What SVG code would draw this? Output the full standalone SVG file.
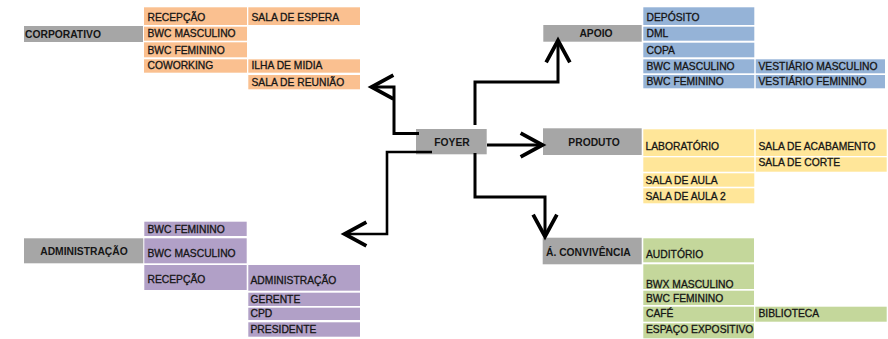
<svg xmlns="http://www.w3.org/2000/svg" width="888" height="339" viewBox="0 0 888 339">
<defs>
<style>
.hd{fill:#A6A6A6}
.o{fill:#FAC090}
.b{fill:#95B3D7}
.y{fill:#FFE699}
.g{fill:#C4D79B}
.p{fill:#B1A0C7}
text{font-family:"Liberation Sans",Arial,sans-serif;fill:#151515}
.ht{font-size:10.3px;font-weight:bold}
.ct{font-size:10.3px;stroke:#151515;stroke-width:0.3}
.mid{text-anchor:middle}
.ln{fill:none;stroke:#000;stroke-width:3;stroke-linejoin:miter}
</style>
<marker id="arr" markerUnits="userSpaceOnUse" markerWidth="30" markerHeight="30" refX="0" refY="0" viewBox="-20 -12 22 24" orient="auto" overflow="visible">
<path d="M-17.5,-9.5 L0,0 L-17.5,9.5" fill="none" stroke="#000" stroke-width="3"/>
</marker>
</defs>
<rect width="888" height="339" fill="#fff"/>

<g id="corporativo">
<rect class="hd" x="24" y="26" width="119" height="16"/>
<text class="ht" x="25" y="37.5">CORPORATIVO</text>
</g>
<g id="corporativo-salas">
<rect class="o" x="144" y="7.3" width="103" height="17.7"/><text class="ct" x="147.5" y="20.5">RECEPÇÃO</text>
<rect class="o" x="248.3" y="7.3" width="111.7" height="17.7"/><text class="ct" x="251.5" y="20.5">SALA DE ESPERA</text>
<rect class="o" x="144" y="26.7" width="103" height="14"/><text class="ct" x="147.5" y="37.3">BWC MASCULINO</text>
<rect class="o" x="144" y="42.3" width="103" height="15"/><text class="ct" x="147.5" y="53.5">BWC FEMININO</text>
<rect class="o" x="144" y="59.3" width="103" height="13.4"/><text class="ct" x="147.5" y="69.3">COWORKING</text>
<rect class="o" x="248.3" y="59.3" width="111.7" height="13.4"/><text class="ct" x="251.5" y="69.3">ILHA DE MIDIA</text>
<rect class="o" x="248.3" y="75" width="111.7" height="14.3"/><text class="ct" x="251.5" y="86">SALA DE REUNIÃO</text>
</g>

<g id="apoio">
<rect class="hd" x="543.3" y="25" width="98.4" height="16.7"/>
<text class="ht mid" x="596" y="36.7">APOIO</text>
</g>
<g id="apoio-salas">
<rect class="b" x="643.3" y="7.3" width="111" height="17.7"/><text class="ct" x="646.5" y="20.5">DEPÓSITO</text>
<rect class="b" x="643.3" y="26.7" width="111" height="14"/><text class="ct" x="646.5" y="37.3">DML</text>
<rect class="b" x="643.3" y="42.7" width="111" height="14.6"/><text class="ct" x="646.5" y="53.5">COPA</text>
<rect class="b" x="643.3" y="59.3" width="111" height="14"/><text class="ct" x="646.5" y="69.5">BWC MASCULINO</text>
<rect class="b" x="755.7" y="59.3" width="129.3" height="14"/><text class="ct" x="758.5" y="69.5">VESTIÁRIO MASCULINO</text>
<rect class="b" x="643.3" y="75" width="111" height="13.3"/><text class="ct" x="646.5" y="85">BWC FEMININO</text>
<rect class="b" x="755.7" y="75" width="129.3" height="13.3"/><text class="ct" x="758.5" y="85">VESTIÁRIO FEMININO</text>
</g>

<g id="produto">
<rect class="hd" x="543" y="128.3" width="98.7" height="26.7"/>
<text class="ht mid" x="594" y="145.7">PRODUTO</text>
</g>
<g id="produto-salas">
<rect class="y" x="643.3" y="129.3" width="111" height="26.7"/><text class="ct" x="645.5" y="150">LABORATÓRIO</text>
<rect class="y" x="755.7" y="129.3" width="131" height="26.7"/><text class="ct" x="758.5" y="150">SALA DE ACABAMENTO</text>
<rect class="y" x="643.3" y="157.3" width="111" height="14.4"/>
<rect class="y" x="755.7" y="157.3" width="131" height="14.4"/><text class="ct" x="758.5" y="166">SALA DE CORTE</text>
<rect class="y" x="643.3" y="173.3" width="111" height="13.4"/><text class="ct" x="645.5" y="184">SALA DE AULA</text>
<rect class="y" x="643.3" y="188.3" width="111" height="15"/><text class="ct" x="645.5" y="199.5">SALA DE AULA 2</text>
</g>

<g id="convivencia">
<rect class="hd" x="542.7" y="237.7" width="99" height="26.6"/>
<text class="ht" x="546" y="255.5">Á. CONVIVÊNCIA</text>
</g>
<g id="convivencia-salas">
<rect class="g" x="643.3" y="238.3" width="110.7" height="24"/><text class="ct" x="646" y="258">AUDITÓRIO</text>
<rect class="g" x="643.3" y="264.3" width="110.7" height="24.7"/><text class="ct" x="646" y="287.5">BWX MASCULINO</text>
<rect class="g" x="643.3" y="290.7" width="110.7" height="14.3"/><text class="ct" x="646" y="301.5">BWC FEMININO</text>
<rect class="g" x="643.3" y="306.7" width="110.7" height="15"/><text class="ct" x="646" y="316.5">CAFÉ</text>
<rect class="g" x="755.3" y="306.7" width="131.4" height="15"/><text class="ct" x="758.5" y="316.5">BIBLIOTECA</text>
<rect class="g" x="643.3" y="323.3" width="110.7" height="15"/><text class="ct" x="646" y="333">ESPAÇO EXPOSITIVO</text>
</g>

<g id="administracao">
<rect class="hd" x="24" y="238.3" width="119.3" height="25"/>
<text class="ht mid" x="84" y="255">ADMINISTRAÇÃO</text>
</g>
<g id="administracao-salas">
<rect class="p" x="144.3" y="221.7" width="102.4" height="14.3"/><text class="ct" x="147.5" y="233">BWC FEMININO</text>
<rect class="p" x="144.3" y="238.3" width="102.4" height="25"/><text class="ct" x="147.5" y="256.7">BWC MASCULINO</text>
<rect class="p" x="144.3" y="265" width="102.4" height="25"/><text class="ct" x="147.5" y="283">RECEPÇÃO</text>
<rect class="p" x="248.3" y="265" width="111.7" height="25.7"/><text class="ct" x="250.5" y="283.5">ADMINISTRAÇÃO</text>
<rect class="p" x="248.3" y="292.7" width="111.7" height="13.3"/><text class="ct" x="250.5" y="302.5">GERENTE</text>
<rect class="p" x="248.3" y="307.7" width="111.7" height="12.3"/><text class="ct" x="250.5" y="317">CPD</text>
<rect class="p" x="248.3" y="322.3" width="111.7" height="14.4"/><text class="ct" x="250.5" y="332.5">PRESIDENTE</text>
</g>

<g id="foyer">
<rect class="hd" x="416" y="129" width="70.7" height="25.3"/>
<text class="ht mid" x="452" y="146">FOYER</text>
</g>

<g id="connectors">
<path class="ln" d="M419,133.5 H394 V87 H371.5" marker-end="url(#arr)"/>
<path class="ln" d="M475,125 V82 H558 V40.5" marker-end="url(#arr)"/>
<path class="ln" d="M487,145 H542.5" marker-end="url(#arr)"/>
<path class="ln" d="M475,153 V197 H545 V236.5" marker-end="url(#arr)"/>
<path class="ln" d="M432,152 H387 V234 H344.5" marker-end="url(#arr)" style="stroke-width:2.6"/>
</g>
</svg>
